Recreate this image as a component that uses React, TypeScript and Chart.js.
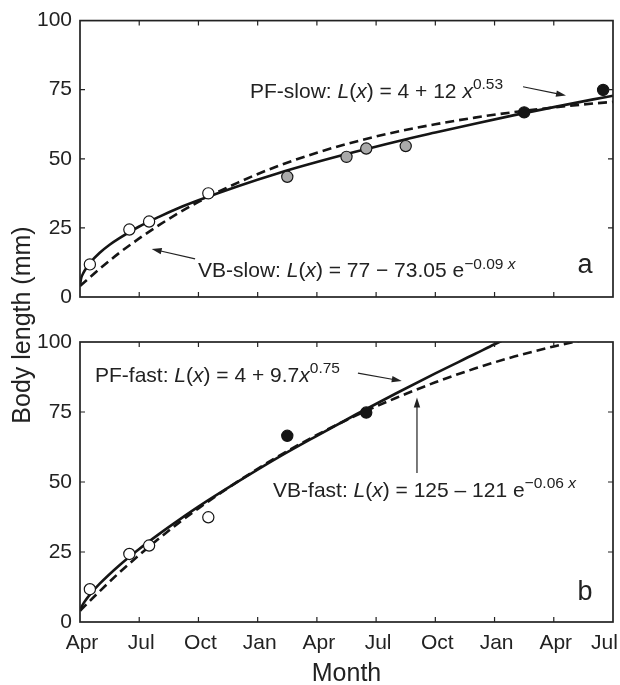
import React, { useEffect, useRef } from "react";
import { Chart, registerables } from "chart.js";
Chart.register(...registerables);

// ---------- data ----------
const MONTH_LABELS = ["Apr", "Jul", "Oct", "Jan", "Apr", "Jul", "Oct", "Jan", "Apr", "Jul"];
const X_MIN = 0;
const X_MAX = 27;
const X_STEP = 3;
const Y_MIN = 0;
const Y_MAX = 100;
const Y_STEP = 25;

// panel a – observations
const A_OPEN_X = [0.5, 2.5, 3.5, 6.5];
const A_OPEN_Y = [11.8, 24.4, 27.3, 37.5];
const A_GRAY_X = [10.5, 13.5, 14.5, 16.5];
const A_GRAY_Y = [43.5, 50.7, 53.7, 54.6];
const A_BLACK_X = [22.5, 26.5];
const A_BLACK_Y = [66.8, 74.9];

// panel a – fitted curves
const PF_SLOW_X = [0, 0.05, 0.15, 0.3, 0.5, 1, 1.5, 2, 3, 4, 5, 6, 8, 10, 12, 14, 16, 18, 20, 22, 24, 26, 27];
const PF_SLOW_Y = [4, 6.5, 8.4, 10.3, 12.3, 16, 18.9, 21.3, 25.5, 29, 32.2, 35, 40.1, 44.7, 48.8, 52.6, 56.2, 59.5, 62.7, 65.8, 68.7, 71.5, 72.8];
const VB_SLOW_X = [0, 1, 2, 3, 4, 5, 6, 8, 10, 12, 14, 16, 18, 20, 22, 24, 26, 27];
const VB_SLOW_Y = [4, 10.2, 16, 21.2, 26, 30.4, 34.4, 41.4, 47.3, 52.2, 56.3, 59.7, 62.5, 64.9, 66.9, 68.6, 70, 70.6];

// panel b – observations
const B_OPEN_X = [0.5, 2.5, 3.5, 6.5];
const B_OPEN_Y = [11.7, 24.3, 27.3, 37.4];
const B_BLACK_X = [10.5, 14.5];
const B_BLACK_Y = [66.5, 74.8];

// panel b – fitted curves
const PF_FAST_X = [0, 0.05, 0.2, 0.5, 1, 2, 3, 4, 5, 6, 8, 10, 12, 14, 16, 18, 20, 21, 22];
const PF_FAST_Y = [4, 5, 6.9, 9.8, 13.7, 20.3, 26.1, 31.4, 36.4, 41.2, 50.1, 58.6, 66.5, 74.2, 81.6, 88.8, 95.7, 99.2, 102.5];
const VB_FAST_X = [0, 1, 2, 3, 4, 5, 6, 8, 10, 12, 14, 16, 18, 20, 22, 24, 25, 26];
const VB_FAST_Y = [4, 11, 17.7, 23.9, 29.8, 35.4, 40.6, 50.2, 59, 66.8, 73.8, 80, 85.6, 90.5, 94.8, 98.4, 100, 101.4];

// ---------- styling ----------
const FONT = '"Liberation Sans", Arial, Helvetica, sans-serif';
const INK = "#222";
const LINE = "#151515";

type Seg = { t: string; i?: boolean; s?: boolean };

const EQ_PF_SLOW: Seg[] = [
  { t: "PF-slow: " }, { t: "L", i: true }, { t: "(" }, { t: "x", i: true }, { t: ") = 4 + 12 " }, { t: "x", i: true }, { t: "0.53", s: true },
];
const EQ_VB_SLOW: Seg[] = [
  { t: "VB-slow: " }, { t: "L", i: true }, { t: "(" }, { t: "x", i: true }, { t: ") = 77 \u2212 73.05 e" }, { t: "\u22120.09 ", s: true }, { t: "x", s: true, i: true },
];
const EQ_PF_FAST: Seg[] = [
  { t: "PF-fast: " }, { t: "L", i: true }, { t: "(" }, { t: "x", i: true }, { t: ") = 4 + 9.7" }, { t: "x", i: true }, { t: "0.75", s: true },
];
const EQ_VB_FAST: Seg[] = [
  { t: "VB-fast: " }, { t: "L", i: true }, { t: "(" }, { t: "x", i: true }, { t: ") = 125 \u2013 121 e" }, { t: "\u22120.06 ", s: true }, { t: "x", s: true, i: true },
];

const pts = (xs: number[], ys: number[]) => xs.map((x, i) => ({ x, y: ys[i] }));

function drawEq(ctx: CanvasRenderingContext2D, segs: Seg[], x: number, y: number, size: number) {
  let cx = x;
  ctx.textAlign = "left";
  ctx.textBaseline = "alphabetic";
  for (const seg of segs) {
    const fs = seg.s ? size * 0.74 : size;
    ctx.font = `${seg.i ? "italic " : ""}${fs}px ${FONT}`;
    const dy = seg.s ? -size * 0.4 : 0;
    ctx.fillText(seg.t, cx, y + dy);
    cx += ctx.measureText(seg.t).width;
  }
}

function drawArrow(ctx: CanvasRenderingContext2D, x1: number, y1: number, x2: number, y2: number) {
  const a = Math.atan2(y2 - y1, x2 - x1);
  const L = 10;
  const W = 3.2;
  ctx.beginPath();
  ctx.moveTo(x1, y1);
  ctx.lineTo(x2 - Math.cos(a) * L * 0.7, y2 - Math.sin(a) * L * 0.7);
  ctx.stroke();
  ctx.beginPath();
  ctx.moveTo(x2, y2);
  ctx.lineTo(x2 - L * Math.cos(a) + W * Math.sin(a), y2 - L * Math.sin(a) - W * Math.cos(a));
  ctx.lineTo(x2 - L * Math.cos(a) - W * Math.sin(a), y2 - L * Math.sin(a) + W * Math.cos(a));
  ctx.closePath();
  ctx.fill();
}

const framePlugin = {
  id: "frame",
  afterDraw(chart: any, _args: any, opts: any) {
    const { ctx, chartArea: ca, scales } = chart;
    const xs = scales.x;
    const ys = scales.y;
    ctx.save();
    // frame
    ctx.strokeStyle = INK;
    ctx.lineWidth = 1.7;
    ctx.strokeRect(ca.left, ca.top, ca.right - ca.left, ca.bottom - ca.top);
    // inward ticks on all sides
    const tl = 5;
    ctx.lineWidth = 1.2;
    ctx.beginPath();
    xs.ticks.forEach((t: any) => {
      const p = xs.getPixelForValue(t.value);
      if (p <= ca.left + 1 || p >= ca.right - 1) return;
      ctx.moveTo(p, ca.bottom);
      ctx.lineTo(p, ca.bottom - tl);
      ctx.moveTo(p, ca.top);
      ctx.lineTo(p, ca.top + tl);
    });
    ys.ticks.forEach((t: any) => {
      const p = ys.getPixelForValue(t.value);
      if (p <= ca.top + 1 || p >= ca.bottom - 1) return;
      ctx.moveTo(ca.left, p);
      ctx.lineTo(ca.left + tl, p);
      ctx.moveTo(ca.right, p);
      ctx.lineTo(ca.right - tl, p);
    });
    ctx.stroke();

    // annotations
    ctx.fillStyle = INK;
    ctx.strokeStyle = INK;
    ctx.lineWidth = 1.2;
    (opts.notes || []).forEach((n: any) => {
      drawEq(ctx, n.segs, xs.getPixelForValue(n.x), ys.getPixelForValue(n.y), 21);
    });
    (opts.arrows || []).forEach((a: any) => {
      drawArrow(ctx, xs.getPixelForValue(a.x1), ys.getPixelForValue(a.y1), xs.getPixelForValue(a.x2), ys.getPixelForValue(a.y2));
    });
    if (opts.letter) {
      ctx.font = `27px ${FONT}`;
      ctx.textAlign = "left";
      ctx.textBaseline = "alphabetic";
      ctx.fillText(opts.letter.text, xs.getPixelForValue(opts.letter.x), ys.getPixelForValue(opts.letter.y));
    }
    ctx.restore();
  },
};

function pointSet(label: string, data: any[], fill: string) {
  return {
    label,
    data,
    showLine: false,
    pointRadius: 5.6,
    pointHoverRadius: 5.6,
    pointBorderWidth: 1.2,
    pointBackgroundColor: fill,
    pointBorderColor: LINE,
    order: 0,
  };
}

function curveSet(label: string, data: any[], dashed: boolean) {
  return {
    label,
    data,
    showLine: true,
    pointRadius: 0,
    borderColor: LINE,
    borderWidth: 2.6,
    borderDash: dashed ? [9, 5] : [],
    cubicInterpolationMode: "monotone",
    fill: false,
    order: 1,
  };
}

function makeConfig(panel: "a" | "b"): any {
  const tickFont = { family: FONT, size: 21 };
  const isB = panel === "b";
  const datasets = isB
    ? [
        pointSet("Observed (early)", pts(B_OPEN_X, B_OPEN_Y), "#ffffff"),
        pointSet("Observed (late)", pts(B_BLACK_X, B_BLACK_Y), "#151515"),
        curveSet("PF-fast", pts(PF_FAST_X, PF_FAST_Y), false),
        curveSet("VB-fast", pts(VB_FAST_X, VB_FAST_Y), true),
      ]
    : [
        pointSet("Observed (year 1)", pts(A_OPEN_X, A_OPEN_Y), "#ffffff"),
        pointSet("Observed (year 2)", pts(A_GRAY_X, A_GRAY_Y), "#a9a9a9"),
        pointSet("Observed (year 3)", pts(A_BLACK_X, A_BLACK_Y), "#151515"),
        curveSet("PF-slow", pts(PF_SLOW_X, PF_SLOW_Y), false),
        curveSet("VB-slow", pts(VB_SLOW_X, VB_SLOW_Y), true),
      ];
  const frame = isB
    ? {
        notes: [
          { x: 0.76, y: 85.8, segs: EQ_PF_FAST },
          { x: 9.78, y: 44.75, segs: EQ_VB_FAST },
        ],
        arrows: [
          { x1: 14.08, y1: 88.9, x2: 16.3, y2: 86.07 },
          { x1: 17.07, y1: 53.2, x2: 17.07, y2: 80.2 },
        ],
        letter: { text: "b", x: 25.2, y: 7.9 },
      }
    : {
        notes: [
          { x: 8.61, y: 72.1, segs: EQ_PF_SLOW },
          { x: 5.98, y: 7.14, segs: EQ_VB_SLOW },
        ],
        arrows: [
          { x1: 22.44, y1: 76.07, x2: 24.62, y2: 72.86 },
          { x1: 5.83, y1: 13.82, x2: 3.63, y2: 17.39 },
        ],
        letter: { text: "a", x: 25.2, y: 8.6 },
      };
  return {
    type: "scatter",
    data: { datasets },
    plugins: [framePlugin],
    options: {
      animation: false,
      responsive: false,
      maintainAspectRatio: false,
      layout: { padding: { top: isB ? 22 : 17, right: 7, left: 0, bottom: 0 } },
      plugins: {
        legend: { display: false },
        tooltip: { enabled: false },
        frame,
      },
      scales: {
        x: {
          type: "linear",
          min: X_MIN,
          max: X_MAX,
          ticks: {
            stepSize: X_STEP,
            display: isB,
            autoSkip: false,
            maxRotation: 0,
            minRotation: 0,
            padding: 9,
            labelOffset: 2,
            font: tickFont,
            color: INK,
            callback: (v: number) => {
              const i = Math.round(v / X_STEP);
              const s = MONTH_LABELS[i] ?? "";
              return i === MONTH_LABELS.length - 1 ? s + "\u2003" : s;
            },
          },
          grid: { display: false, drawTicks: false },
          border: { display: false },
          title: isB
            ? { display: true, text: "Month", color: INK, font: { family: FONT, size: 25, lineHeight: 0.88 }, padding: 0 }
            : { display: false },
          afterFit: (s: any) => {
            s.height = isB ? 63 : 23;
            s.paddingLeft = 0;
            s.paddingRight = 0;
          },
        },
        y: {
          type: "linear",
          min: Y_MIN,
          max: Y_MAX,
          ticks: { stepSize: Y_STEP, padding: 8, font: tickFont, color: INK },
          grid: { display: false, drawTicks: false },
          border: { display: false },
          afterFit: (s: any) => {
            s.width = 80;
          },
        },
      },
    },
  };
}

export default function App() {
  const aRef = useRef<HTMLCanvasElement | null>(null);
  const bRef = useRef<HTMLCanvasElement | null>(null);
  useEffect(() => {
    const ca = new Chart(aRef.current as HTMLCanvasElement, makeConfig("a"));
    const cb = new Chart(bRef.current as HTMLCanvasElement, makeConfig("b"));
    return () => {
      ca.destroy();
      cb.destroy();
    };
  }, []);
  return (
    <div style={{ position: "absolute", left: 0, top: 0, width: 620, height: 685, background: "#fff" }}>
      <canvas ref={aRef} width={620} height={320} style={{ position: "absolute", left: 0, top: 0, width: 620, height: 320 }} />
      <canvas ref={bRef} width={620} height={365} style={{ position: "absolute", left: 0, top: 320, width: 620, height: 365 }} />
      <div
        style={{
          position: "absolute",
          left: 21 - 150,
          top: 325 - 15,
          width: 300,
          height: 30,
          lineHeight: "30px",
          textAlign: "center",
          transform: "rotate(-90deg)",
          fontFamily: FONT,
          fontSize: 25,
          color: INK,
          whiteSpace: "nowrap",
        }}
      >
        Body length (mm)
      </div>
    </div>
  );
}
